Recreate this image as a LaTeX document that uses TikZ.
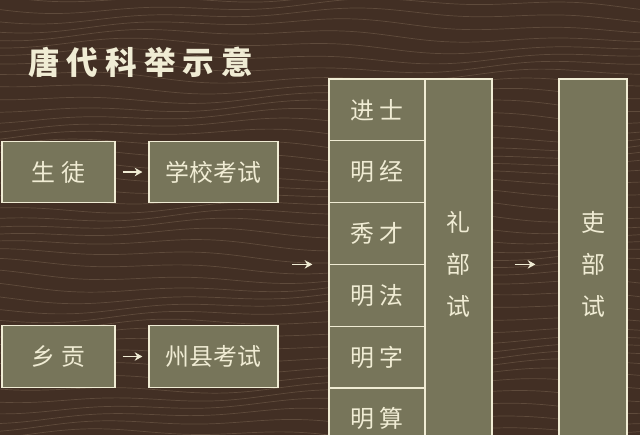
\documentclass[tikz,border=0pt]{standalone}
\usepackage{fontspec}
\usepackage{xcolor}
\usepackage{tikz}
\usetikzlibrary{arrows.meta, positioning, calc}
\newfontfamily\cjk{Noto Sans CJK SC}
\newfontfamily\cjktitle[LetterSpace=22]{Noto Sans CJK SC}
\definecolor{woodbg}{RGB}{66, 47, 36}
\definecolor{woodgrain}{RGB}{140, 118, 96}
\definecolor{panel}{RGB}{119, 117, 90}
\definecolor{cream}{RGB}{240, 236, 212}

\begin{document}
\begin{tikzpicture}[x=0.025cm, y=-0.025cm,
    stage/.style={draw=cream, line width=0.8pt, fill=panel, inner sep=0pt, text=cream, font=\cjk\fontsize{17}{20}\selectfont, minimum height=1.545cm},
    subject/.style={stage, minimum width=2.4cm},
    office/.style={stage, minimum width=1.7cm, minimum height=9.27cm, align=center, font=\cjk\fontsize{17}{29.8}\selectfont},
    step arrow/.style={-{Stealth[length=5.5pt, width=6pt]}, line width=1pt, cream}
]
    % Wood background
    \useasboundingbox (0,0) rectangle (640,435);
    \fill[woodbg] (0,0) rectangle (640,435);
    \begin{scope}
        \clip (0,0) rectangle (640,435);
        \foreach \k in {0,...,44} {
            \draw[woodgrain, opacity=0.4, line width=0.5pt]
                plot[domain=0:640, samples=60, smooth] (\x, {10*\k - 4 + 5*sin(0.55*\x + 37*\k) + 3*sin(1.7*\x + 11*\k)});
        }
    \end{scope}

    % Title
    \node[anchor=west, inner sep=0pt, text=cream, font=\cjktitle\bfseries\fontsize{22.5}{24}\selectfont] (title) at (28,62) {唐代科举示意};

    % Entry routes
    \node[stage, minimum width=2.825cm] (shengtu) at (58.5,172) {生 徒};
    \node[stage, minimum width=3.225cm] (xuexiao) at (213.5,172) {学校考试};
    \node[stage, minimum width=2.825cm] (xianggong) at (58.5,356.5) {乡 贡};
    \node[stage, minimum width=3.225cm] (zhouxian) at (213.5,356.5) {州县考试};

    \draw[step arrow, shorten <=1.75mm, shorten >=1.5mm] (shengtu) -- (xuexiao);
    \draw[step arrow, shorten <=1.75mm, shorten >=1.5mm] (xianggong) -- (zhouxian);

    % Examination subjects
    \node[subject] (jinshi) at (377,109.9) {进 士};
    \node[subject] (mingjing) at (377,171.7) {明 经};
    \node[subject] (xiucai) at (377,233.5) {秀 才};
    \node[subject] (mingfa) at (377,295.3) {明 法};
    \node[subject] (mingzi) at (377,357.1) {明 字};
    \node[subject] (mingsuan) at (377,418.9) {明 算};

    % Ministries
    \node[office, minimum width=1.675cm] (libu) at (458.5,264.4) {礼\\部\\试};
    \node[office] (libutwo) at (593,264.4) {吏\\部\\试};

    \coordinate (entry) at (292,264.4);
    \draw[step arrow, shorten >=4mm] (entry) -- (entry -| xiucai.west);
    \draw[step arrow, shorten <=5.5mm, shorten >=5.75mm] (libu) -- (libutwo);
\end{tikzpicture}
\end{document}
